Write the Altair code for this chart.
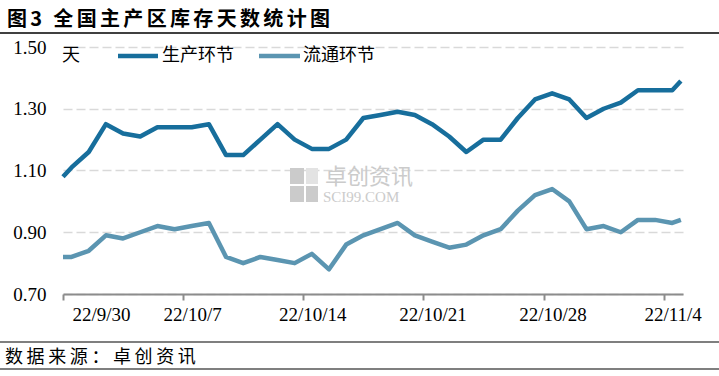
import altair as alt
import pandas as pd

# ---------------- data ----------------
title_text = "图3 全国主产区库存天数统计图"
source_text = "数据来源：卓创资讯"
unit_text = "天"
series = ["生产环节", "流通环节"]
colors = ["#176e9c", "#5b95b1"]

days = [
    "2022-09-30", "2022-10-01", "2022-10-02", "2022-10-03", "2022-10-04", "2022-10-05",
    "2022-10-06", "2022-10-07", "2022-10-08", "2022-10-09", "2022-10-10", "2022-10-11",
    "2022-10-12", "2022-10-13", "2022-10-14", "2022-10-15", "2022-10-16", "2022-10-17",
    "2022-10-18", "2022-10-19", "2022-10-20", "2022-10-21", "2022-10-22", "2022-10-23",
    "2022-10-24", "2022-10-25", "2022-10-26", "2022-10-27", "2022-10-28", "2022-10-29",
    "2022-10-30", "2022-10-31", "2022-11-01", "2022-11-02", "2022-11-03", "2022-11-04",
]
edge_start = "2022-09-30T00:00:00"
edge_end = "2022-11-05T00:00:00"

production = [
    1.11, 1.16, 1.25, 1.22, 1.21, 1.24, 1.24, 1.24, 1.25, 1.15, 1.15, 1.20,
    1.25, 1.20, 1.17, 1.17, 1.20, 1.27, 1.28, 1.29, 1.28, 1.25, 1.21, 1.16,
    1.20, 1.20, 1.27, 1.33, 1.35, 1.33, 1.27, 1.30, 1.32, 1.36, 1.36, 1.36,
]
production_edges = [1.08, 1.39]

circulation = [
    0.82, 0.84, 0.89, 0.88, 0.90, 0.92, 0.91, 0.92, 0.93, 0.82, 0.80, 0.82,
    0.81, 0.80, 0.83, 0.78, 0.86, 0.89, 0.91, 0.93, 0.89, 0.87, 0.85, 0.86,
    0.89, 0.91, 0.97, 1.02, 1.04, 1.00, 0.91, 0.92, 0.90, 0.94, 0.94, 0.93,
]
circulation_edges = [0.82, 0.94]

y_ticks = [0.70, 0.90, 1.10, 1.30, 1.50]
tick_days = [(2022, 9, 30), (2022, 10, 7), (2022, 10, 14), (2022, 10, 21), (2022, 10, 28), (2022, 11, 4)]

# ---------------- table ----------------
stamps = [edge_start] + [d + "T12:00:00" for d in days] + [edge_end]
rows = []
for name, vals, edges in [(series[0], production, production_edges),
                          (series[1], circulation, circulation_edges)]:
    full = [edges[0]] + vals + [edges[1]]
    for t, v in zip(stamps, full):
        rows.append({"date": t, "series": name, "value": v})
df = pd.DataFrame(rows)


def spaced(s, gap="\u2006"):
    # widen the letter spacing a little, like the original's SimSun layout
    return gap.join(list(s))


CJK = "Noto Sans CJK SC"
NUM = "Liberation Serif"
one = pd.DataFrame({"k": [0]})

lines = alt.Chart(df).mark_line(strokeWidth=4.5, strokeJoin="round", strokeCap="butt").encode(
    x=alt.X("date:T",
            scale=alt.Scale(domain=[alt.DateTime(year=2022, month=9, date=30),
                                    alt.DateTime(year=2022, month=11, date=5, hours=3)]),
            axis=alt.Axis(values=[alt.DateTime(year=y, month=m, date=d) for (y, m, d) in tick_days],
                          format="%y/%-m/%-d", title=None, grid=False,
                          domainColor="#8c8c8c", domainWidth=2,
                          tickColor="#8c8c8c", tickWidth=2, tickSize=6,
                          labelOffset=9, labelPadding=5,
                          labelFont=NUM, labelFontSize=19, labelColor="#000000")),
    y=alt.Y("value:Q",
            scale=alt.Scale(domain=[0.7, 1.5], nice=False, zero=False),
            axis=alt.Axis(values=y_ticks, format=".2f", title=None,
                          grid=True, gridDash=[9, 4], gridColor="#d9d9d9", gridWidth=1.5,
                          domain=False, ticks=False, labelPadding=17,
                          labelFont=NUM, labelFontSize=19, labelColor="#000000")),
    color=alt.Color("series:N", scale=alt.Scale(domain=series, range=colors), legend=None),
    order=alt.Order("date:T"),
)

# watermark
wm_color = "#cbcbcb"
wm_rects = [
    alt.Chart(one).mark_rect(color=wm_color).encode(
        x=alt.value(227), x2=alt.value(241), y=alt.value(121), y2=alt.value(137)),
    alt.Chart(one).mark_rect(color=wm_color).encode(
        x=alt.value(227), x2=alt.value(241), y=alt.value(139), y2=alt.value(155)),
    alt.Chart(one).mark_rect(color=wm_color).encode(
        x=alt.value(243), x2=alt.value(255), y=alt.value(139), y2=alt.value(155)),
    alt.Chart(one).mark_rect(color="#e3e3e3").encode(
        x=alt.value(243), x2=alt.value(255), y=alt.value(121), y2=alt.value(137)),
]
wm_text1 = alt.Chart(one).mark_text(text="卓创资讯", font=CJK, fontSize=22, color=wm_color,
                                     align="left", baseline="middle").encode(
    x=alt.value(262), y=alt.value(130))
wm_text2 = alt.Chart(one).mark_text(text="SCI99.COM", font=NUM, fontSize=15, color=wm_color,
                                     align="left", baseline="middle").encode(
    x=alt.value(260), y=alt.value(150))

# title, source and frame lines
title = alt.Chart(one).mark_text(text=spaced(title_text), font=CJK, fontSize=20, fontWeight="bold",
                                  color="#000000", align="left", baseline="middle").encode(
    x=alt.value(-56), y=alt.value(-27))
source = alt.Chart(one).mark_text(text=spaced(source_text, "\u2009"), font=CJK, fontSize=18,
                                   color="#000000", align="left", baseline="middle").encode(
    x=alt.value(-58), y=alt.value(311))
rule_top = alt.Chart(one).mark_rule(color="#000000", strokeWidth=1.5).encode(
    x=alt.value(-63), x2=alt.value(656), y=alt.value(-14))
rule_src1 = alt.Chart(one).mark_rule(color="#000000", strokeWidth=1.2).encode(
    x=alt.value(-63), x2=alt.value(656), y=alt.value(295))
rule_src2 = alt.Chart(one).mark_rule(color="#000000", strokeWidth=1.2).encode(
    x=alt.value(-63), x2=alt.value(656), y=alt.value(322))

# legend
unit = alt.Chart(one).mark_text(text=unit_text, font=CJK, fontSize=18, color="#000000",
                                 align="left", baseline="middle").encode(
    x=alt.value(-1), y=alt.value(9))
leg_sw1 = alt.Chart(one).mark_rule(color=colors[0], strokeWidth=4.5).encode(
    x=alt.value(55), x2=alt.value(95), y=alt.value(9))
leg_tx1 = alt.Chart(one).mark_text(text=series[0], font=CJK, fontSize=18, color="#000000",
                                    align="left", baseline="middle").encode(
    x=alt.value(99), y=alt.value(9))
leg_sw2 = alt.Chart(one).mark_rule(color=colors[1], strokeWidth=4.5).encode(
    x=alt.value(196), x2=alt.value(237), y=alt.value(9))
leg_tx2 = alt.Chart(one).mark_text(text=series[1], font=CJK, fontSize=18, color="#000000",
                                    align="left", baseline="middle").encode(
    x=alt.value(240), y=alt.value(9))

chart = alt.layer(
    *wm_rects, wm_text1, wm_text2, lines,
    title, source, rule_top, rule_src1, rule_src2,
    unit, leg_sw1, leg_tx1, leg_sw2, leg_tx2,
).properties(
    width=620, height=247,
    padding={"left": 63, "top": 47, "right": 36, "bottom": 82},
    autosize=alt.AutoSizeParams(type="none"),
    background="#ffffff",
).configure_view(stroke=None)

chart.save("out.html", embed_options={"renderer": "svg", "actions": False})
